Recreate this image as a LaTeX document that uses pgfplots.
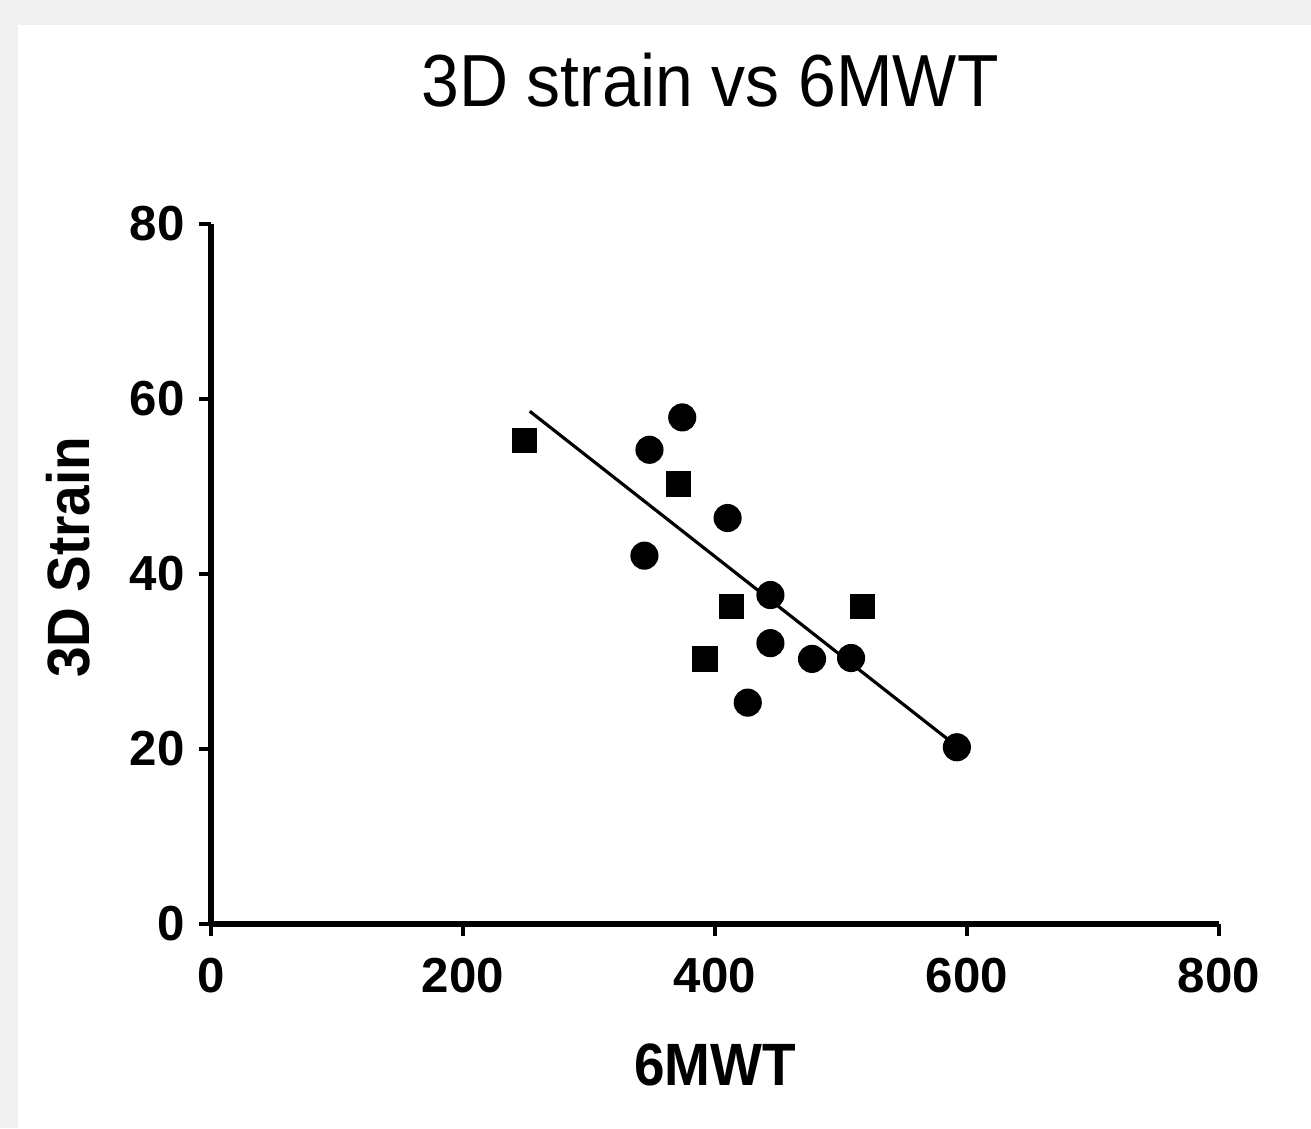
\documentclass[border=0pt]{standalone}
\usepackage{fontspec}
\setmainfont{Liberation Sans}
\newfontfamily\cond{Liberation Sans}[FakeStretch=0.92]
\usepackage{pgfplots}
\pgfplotsset{compat=1.18}

\pgfplotstableread{
x y
348 54.2
374 57.9
410 46.4
344 42.1
444 37.6
444 32.1
477 30.3
508 30.4
426 25.3
592 20.2
}\circpts

\pgfplotstableread{
x y
249 55.3
371 50.3
413 36.3
517 36.3
392 30.3
}\sqpts

\begin{document}
\begin{tikzpicture}
% frame background
\fill[gray!12] (0,0) rectangle (13.11cm,11.28cm);
\fill[white] (0.18cm,0) rectangle (13.11cm,11.03cm);
\begin{axis}[
    at={(2.11cm,2.04cm)}, anchor=origin,
    scale only axis, width=10.08cm, height=7.00cm,
    xmin=0, xmax=800, ymin=0, ymax=80,
    axis lines=left, axis line style={-, line width=1.5pt},
    xtick={0,200,400,600,800}, ytick={0,20,40,60,80},
    tick align=outside, major tick length=0.12cm,
    tick style={line width=1.2pt, black},
    minor tick num=0,
    /pgf/number format/assume math mode=true,
    ticklabel style={font=\fontsize{14}{16}\selectfont\bfseries},
    xticklabel style={yshift=-0.1cm},
    yticklabel style={xshift=-0.02cm},
    title={\cond 3D strain vs 6MWT},
    title style={font=\fontsize{21}{24}\selectfont, at={(axis description cs:0.495,1)}, anchor=base, yshift=0.96cm},
    xlabel={\cond\bfseries 6MWT},
    xlabel style={font=\fontsize{17}{20}\selectfont, at={(axis description cs:0.5,0)}, anchor=base, yshift=-1.61cm},
    ylabel={\cond\bfseries 3D Strain},
    ylabel style={font=\fontsize{17}{20}\selectfont, at={([xshift=-1.21cm]axis description cs:0,0.524)}, anchor=base, rotate=0},
    clip=false,
]
\addplot[black, line width=0.9pt] coordinates {(253,58.6) (592,20.3)};
\addplot[only marks, mark=*, mark size=3.8pt, black] table {\circpts};
\addplot[only marks, mark=square*, mark size=3.4pt, black] table {\sqpts};
\end{axis}
\end{tikzpicture}
\end{document}
